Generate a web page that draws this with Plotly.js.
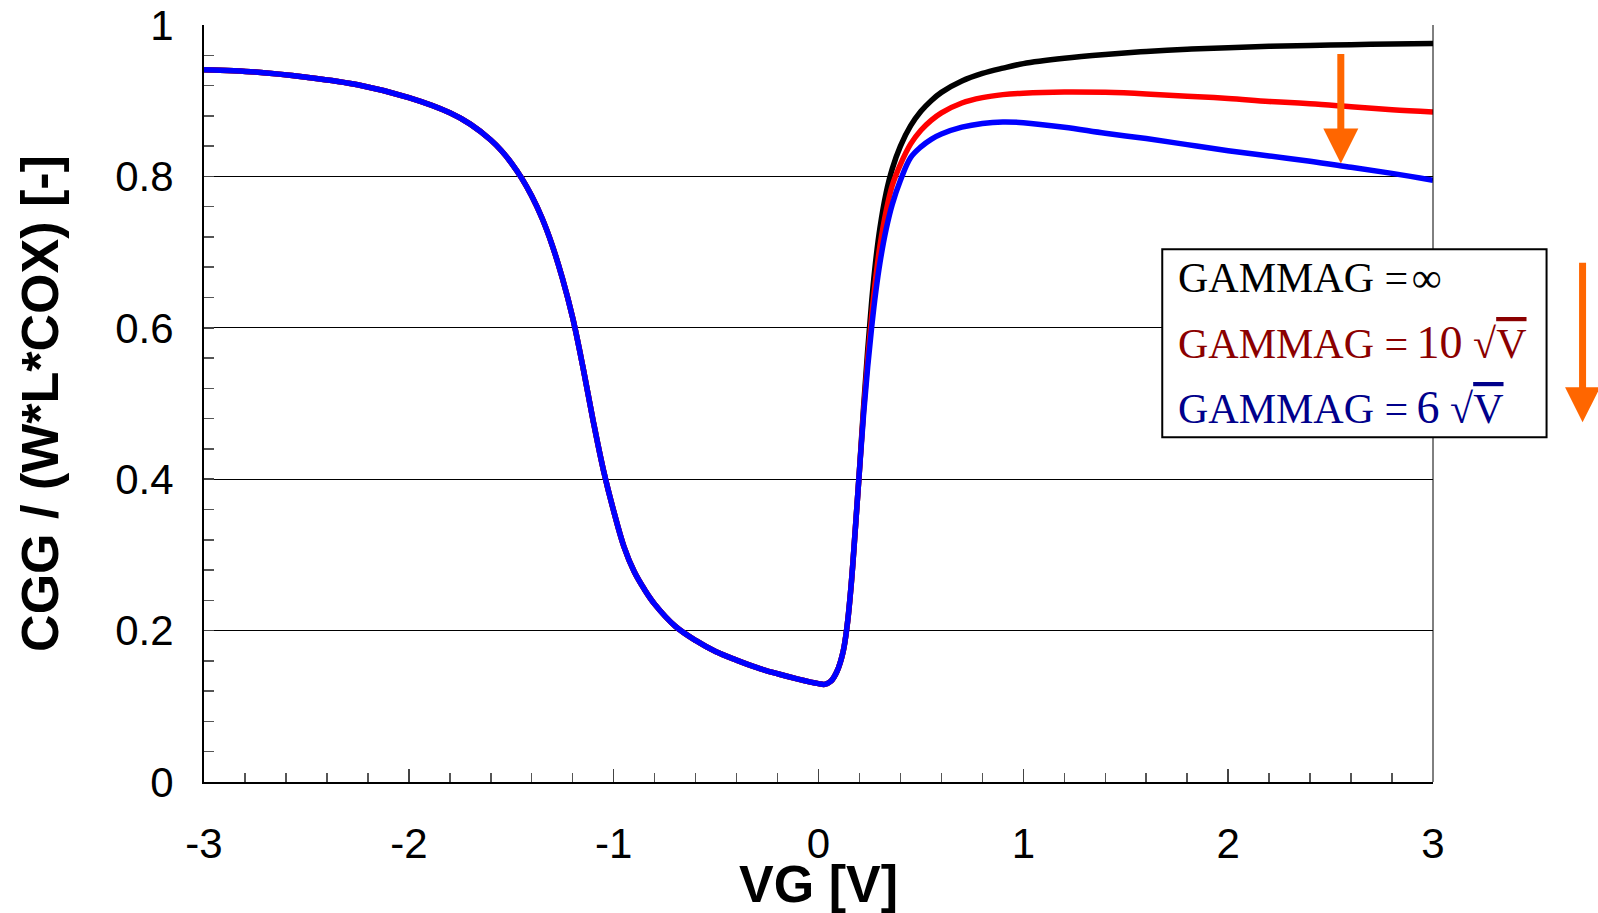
<!DOCTYPE html>
<html>
<head>
<meta charset="utf-8">
<script src="https://cdn.plot.ly/plotly-3.0.1.min.js"></script>
<style>html,body{margin:0;padding:0;background:#fff;}#chart{width:1598px;height:913px;}</style>
</head>
<body>
<div id="chart"></div>
<script>
// VG [V]
const VG = [-3.0, -2.75, -2.5, -2.25, -2.0, -1.8, -1.7, -1.6, -1.55, -1.5, -1.45, -1.4, -1.35, -1.3, -1.25, -1.2, -1.15, -1.1, -1.05, -1.0,
  -0.95, -0.9, -0.85, -0.8, -0.7, -0.6, -0.5, -0.4, -0.3, -0.2, -0.1, 0.0, 0.03, 0.06, 0.09, 0.12, 0.14, 0.16, 0.18, 0.2,
  0.22, 0.24, 0.26, 0.28, 0.3, 0.33, 0.36, 0.4, 0.45, 0.5, 0.55, 0.6, 0.7, 0.8, 0.9, 1.0, 1.2, 1.4, 1.6, 1.8,
  2.0, 2.2, 2.4, 2.6, 2.8, 3.0];

// CGG/(W*L*COX), GAMMAG = infinity
const CGG_inf = [0.941, 0.938, 0.931, 0.921, 0.904, 0.884, 0.869, 0.848, 0.8345, 0.818, 0.798, 0.774, 0.745, 0.709, 0.665, 0.613, 0.548, 0.477, 0.412, 0.358,
  0.311, 0.278, 0.2545, 0.235, 0.206, 0.187, 0.172, 0.161, 0.151, 0.143, 0.136, 0.130, 0.129, 0.133, 0.146, 0.172, 0.207, 0.262, 0.335, 0.412,
  0.495, 0.570, 0.636, 0.690, 0.732, 0.778, 0.810, 0.840, 0.867, 0.886, 0.900, 0.911, 0.926, 0.936, 0.943, 0.949, 0.956, 0.961, 0.965, 0.968,
  0.970, 0.972, 0.973, 0.974, 0.975, 0.9755];

// GAMMAG = 10 sqrt(V)
const CGG_10 = [0.941, 0.938, 0.931, 0.921, 0.904, 0.884, 0.869, 0.848, 0.8345, 0.818, 0.798, 0.774, 0.745, 0.709, 0.665, 0.613, 0.548, 0.477, 0.412, 0.358,
  0.311, 0.278, 0.2545, 0.235, 0.206, 0.187, 0.172, 0.161, 0.151, 0.143, 0.136, 0.130, 0.129, 0.133, 0.146, 0.172, 0.207, 0.262, 0.335, 0.412,
  0.490, 0.558, 0.617, 0.667, 0.708, 0.754, 0.788, 0.816, 0.843, 0.861, 0.874, 0.884, 0.897, 0.904, 0.908, 0.910, 0.9115, 0.911, 0.909, 0.906,
  0.903, 0.899, 0.896, 0.892, 0.888, 0.885];

// GAMMAG = 6 sqrt(V)
const CGG_6 = [0.941, 0.938, 0.931, 0.921, 0.904, 0.884, 0.869, 0.848, 0.8345, 0.818, 0.798, 0.774, 0.745, 0.709, 0.665, 0.613, 0.548, 0.477, 0.412, 0.358,
  0.311, 0.278, 0.2545, 0.235, 0.206, 0.187, 0.172, 0.161, 0.151, 0.143, 0.136, 0.130, 0.129, 0.133, 0.146, 0.172, 0.207, 0.262, 0.335, 0.412,
  0.485, 0.548, 0.602, 0.648, 0.686, 0.730, 0.763, 0.795, 0.825, 0.839, 0.849, 0.856, 0.865, 0.870, 0.872, 0.871, 0.865, 0.857, 0.850, 0.842,
  0.834, 0.827, 0.820, 0.812, 0.804, 0.795];

const xTickVals = [-3, -2, -1, 0, 1, 2, 3];
const xTickText = ['-3', '-2', '-1', '0', '1', '2', '3'];
const yTickVals = [0, 0.2, 0.4, 0.6, 0.8, 1];
const yTickText = ['0', '0.2', '0.4', '0.6', '0.8', '1'];

const ov = 'text-decoration:overline;text-decoration-thickness:1.5px';
const legendLabels = [
  'GAMMAG =\u200a∞',
  'GAMMAG =\u2009<span style="font-size:46px">10</span> √<span style="' + ov + '">V</span>',
  'GAMMAG =\u2009<span style="font-size:46px">6</span> √<span style="' + ov + '">V</span>'
];
const legendColors = ['#000000', '#8b0000', '#00008b'];

const lineColors = ['#000000', '#ff0000', '#0000ff'];
const series = [CGG_inf, CGG_10, CGG_6];

const traces = series.map((y, i) => ({
  x: VG, y: y, type: 'scatter', mode: 'lines',
  line: {color: lineColors[i], width: 5.5, shape: 'spline', smoothing: 1},
  showlegend: false, hoverinfo: 'skip'
}));

const tickFont = {family: 'Arial, "Liberation Sans", sans-serif', size: 42, color: '#000'};
const titleFont = {family: 'Arial, "Liberation Sans", sans-serif', size: 52, color: '#000', weight: 'bold'};

const annotations = [];
const rowY = [0.6654, 0.5809, 0.4950];
legendLabels.forEach((t, i) => {
  annotations.push({
    xref: 'paper', yref: 'paper', x: 0.7905, y: rowY[i], xanchor: 'left', yanchor: 'middle',
    text: t, showarrow: false, align: 'left',
    font: {family: '"Liberation Serif", "Times New Roman", serif', size: 42, color: legendColors[i]}
  });
});
// orange arrows
annotations.push({
  xref: 'x', yref: 'y', x: 2.55, y: 0.817, axref: 'pixel', ayref: 'pixel', ax: 0, ay: -111,
  text: '', showarrow: true, arrowhead: 2, arrowsize: 1, arrowwidth: 7, arrowcolor: '#ff6600', standoff: 0
});
annotations.push({
  xref: 'paper', yref: 'paper', x: 1.1217, y: 0.4752, axref: 'pixel', ayref: 'pixel', ax: 0, ay: -161,
  text: '', showarrow: true, arrowhead: 2, arrowsize: 1, arrowwidth: 7, arrowcolor: '#ff6600', standoff: 0
});

const layout = {
  width: 1598, height: 913,
  margin: {l: 204, r: 165, t: 25, b: 131},
  paper_bgcolor: '#fff', plot_bgcolor: '#fff',
  showlegend: false,
  xaxis: {
    range: [-3, 3], tickmode: 'array', tickvals: xTickVals, ticktext: xTickText,
    ticks: 'inside', ticklen: 13, tickwidth: 1.5, tickcolor: '#444',
    minor: {dtick: 0.2, ticks: 'inside', ticklen: 9, tickwidth: 1.5, tickcolor: '#555', showgrid: false},
    showline: true, linecolor: '#000', linewidth: 2, mirror: false,
    showgrid: false, zeroline: false,
    tickfont: tickFont, ticklabelstandoff: 24,
    title: {text: 'VG [V]', font: titleFont, standoff: 4}
  },
  yaxis: {
    range: [0, 1], tickmode: 'array', tickvals: yTickVals, ticktext: yTickText,
    ticks: 'inside', ticklen: 10, tickwidth: 1.5, tickcolor: '#444',
    minor: {dtick: 0.04, ticks: 'inside', ticklen: 10, tickwidth: 1.5, tickcolor: '#555', showgrid: false},
    showline: true, linecolor: '#000', linewidth: 2, mirror: false,
    showgrid: true, gridcolor: '#000', gridwidth: 1, zeroline: false,
    tickfont: tickFont, ticklabelstandoff: 20,
    title: {text: 'CGG / (W*L*COX) [-]', font: titleFont, standoff: 40}
  },
  shapes: [
    {type: 'line', xref: 'paper', yref: 'paper', x0: 1, x1: 1, y0: 0, y1: 1, line: {color: '#000', width: 1}},
    {type: 'rect', xref: 'paper', yref: 'paper', x0: 0.7797, x1: 1.0924, y0: 0.4554, y1: 0.7037,
     fillcolor: '#fff', line: {color: '#000', width: 2}, layer: 'above'}
  ],
  annotations: annotations
};

Plotly.newPlot('chart', traces, layout, {displayModeBar: false, staticPlot: true});
</script>
</body>
</html>
